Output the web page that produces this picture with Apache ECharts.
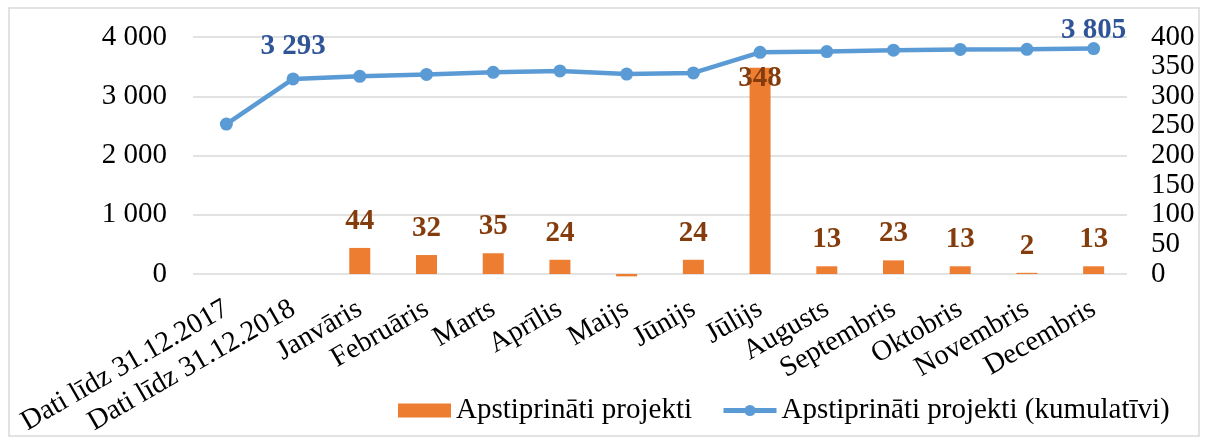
<!DOCTYPE html>
<html>
<head>
<meta charset="utf-8">
<script src="https://cdn.jsdelivr.net/npm/echarts@6/dist/echarts.min.js"></script>
<style>
html,body{margin:0;padding:0;background:#fff;}
#chart{width:1206px;height:439px;}
</style>
</head>
<body>
<div id="chart"></div>
<script>
const categories = ['Dati līdz 31.12.2017','Dati līdz 31.12.2018','Janvāris','Februāris','Marts','Aprīlis','Maijs','Jūnijs','Jūlijs','Augusts','Septembris','Oktobris','Novembris','Decembris'];
const approved = [null, null, 44, 32, 35, 24, -4, 24, 348, 13, 23, 13, 2, 13];
const cumulative = [2530, 3293, 3337, 3369, 3404, 3428, 3375, 3393, 3741, 3754, 3777, 3790, 3792, 3805];
const leftTicks = [0, 1000, 2000, 3000, 4000];
const rightTicks = [0, 50, 100, 150, 200, 250, 300, 350, 400];
const barName = 'Apstiprināti projekti';
const lineName = 'Apstiprināti projekti (kumulatīvi)';
const lineLabelIdx = [1, 13];

const FONT = '"Liberation Serif", "Times New Roman", serif';
const chart = echarts.init(document.getElementById('chart'), null, {renderer: 'canvas'});

function fmtThousands(v){
  return String(v).replace(/\B(?=(\d{3})+(?!\d))/g, ' ');
}

const barData = approved.map((v, i) => {
  if (v === null) return null;
  const item = {value: v};
  if (v < 0) item.label = {show: false};
  if (i === 8) item.label = {position: 'insideTop', distance: 0, offset: [0, -4]};
  return item;
});

const lineData = cumulative.map((v, i) => {
  const item = {value: v};
  if (lineLabelIdx.indexOf(i) >= 0) {
    item.label = {show: true, position: 'top', distance: i === 13 ? -3 : 11};
  }
  return item;
});

chart.setOption({
  animation: false,
  backgroundColor: '#fff',
  textStyle: {fontFamily: FONT},
  graphic: [{
    type: 'rect',
    shape: {x: 9, y: 8, width: 1190, height: 428},
    style: {fill: 'none', stroke: '#d9d9d9', lineWidth: 1.5},
    silent: true,
    z: -1
  }],
  grid: {left: 193, right: 79, top: 37, bottom: 165},
  legend: {
    left: 393,
    top: 391,
    itemWidth: 53,
    itemHeight: 14,
    itemGap: 29,
    textStyle: {fontFamily: FONT, fontSize: 29, color: '#000'},
    data: [
      {name: barName, icon: 'rect'},
      {name: lineName, lineStyle: {width: 5, color: '#5b9bd5'}, itemStyle: {color: '#5b9bd5'}}
    ]
  },
  xAxis: {
    type: 'category',
    data: categories,
    boundaryGap: true,
    axisLine: {show: false},
    axisTick: {show: false},
    axisLabel: {
      interval: 0,
      rotate: 30,
      margin: 33,
      fontFamily: FONT,
      fontSize: 28.5,
      color: '#000'
    }
  },
  yAxis: [{
    type: 'value',
    min: 0, max: 4000, interval: 1000,
    axisLine: {show: false},
    axisTick: {show: false},
    splitLine: {lineStyle: {color: '#d9d9d9', width: 1.5}},
    axisLabel: {
      margin: 26,
      fontFamily: FONT,
      fontSize: 29,
      color: '#000',
      formatter: v => leftTicks.indexOf(v) >= 0 ? fmtThousands(v) : ''
    }
  }, {
    type: 'value',
    min: 0, max: 400, interval: 50,
    axisLine: {show: false},
    axisTick: {show: false},
    splitLine: {show: false},
    axisLabel: {
      margin: 24,
      fontFamily: FONT,
      fontSize: 29,
      color: '#000',
      formatter: v => rightTicks.indexOf(v) >= 0 ? String(v) : ''
    }
  }],
  series: [{
    name: barName,
    type: 'bar',
    yAxisIndex: 1,
    barWidth: 21,
    clip: false,
    itemStyle: {color: '#ed7d31'},
    label: {
      show: true,
      position: 'top',
      distance: 12,
      fontFamily: FONT,
      fontSize: 29,
      fontWeight: 'bold',
      color: '#843c0c'
    },
    data: barData,
    z: 2
  }, {
    name: lineName,
    type: 'line',
    yAxisIndex: 0,
    symbol: 'circle',
    symbolSize: 13,
    lineStyle: {color: '#5b9bd5', width: 4.5},
    itemStyle: {color: '#5b9bd5'},
    label: {
      show: false,
      fontFamily: FONT,
      fontSize: 29,
      fontWeight: 'bold',
      color: '#2f5597',
      formatter: p => fmtThousands(p.value)
    },
    data: lineData,
    z: 3
  }]
});
</script>
</body>
</html>
